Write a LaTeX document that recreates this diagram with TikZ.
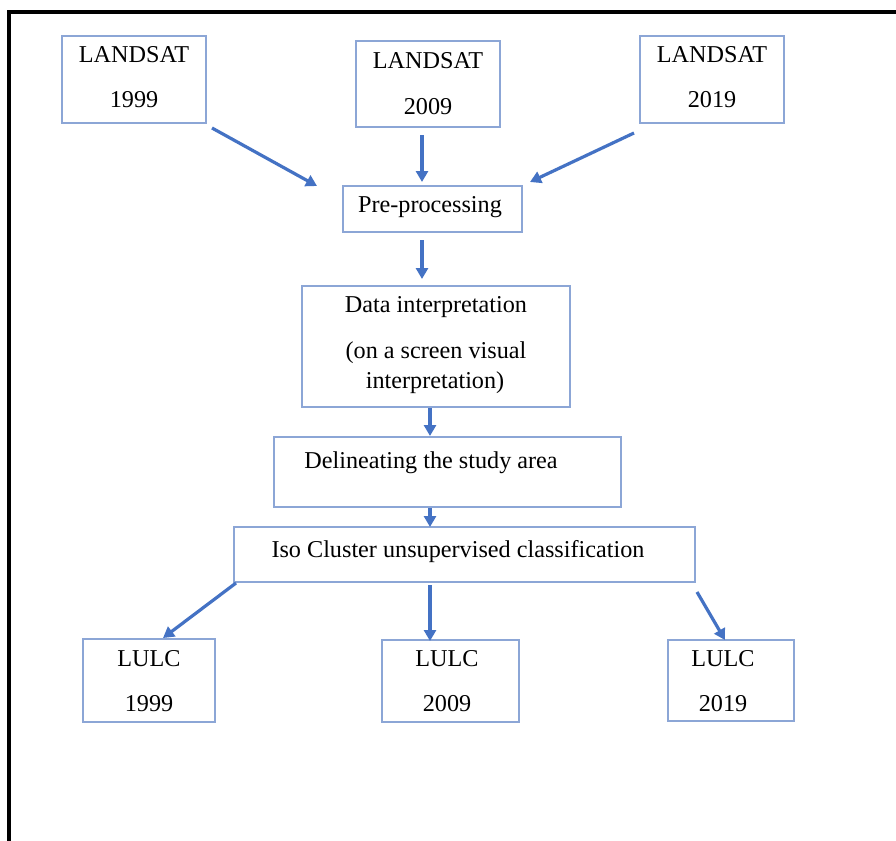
\documentclass[tikz,border=0pt]{standalone}
\usepackage{fontspec}
\setmainfont{Liberation Serif}
\usetikzlibrary{arrows.meta}
\definecolor{boxc}{HTML}{8CA6D6}
\definecolor{arrc}{HTML}{4472C4}
\tikzset{
  box/.style={draw=boxc, line width=1.6pt, fill=white},
  lbl/.style={anchor=base, inner sep=0pt, font=\fontsize{24.2}{29}\selectfont},
  flow/.style={draw=arrc, line width=3.2pt, -{Triangle[length=11pt,width=12pt]}},
  frame/.style={draw=black, line width=4pt}
}
\begin{document}
\begin{tikzpicture}[x=1pt,y=-1pt]
\useasboundingbox (0,0) rectangle (896,840);
\fill[white] (0,0) rectangle (896,840);
% frame
\coordinate (fbl) at (9,842);
\coordinate (ftl) at (9,12);
\coordinate (ftr) at (898,12);
\draw[frame] (fbl) -- (ftl) -- (ftr);
% boxes
\draw[box] (62,36) rectangle (206,123) node[midway] (b1) {};
\draw[box] (356,41) rectangle (500,127) node[midway] (b2) {};
\draw[box] (640,36) rectangle (784,123) node[midway] (b3) {};
\draw[box] (343,186) rectangle (522,232) node[midway] (pre) {};
\draw[box] (302,286) rectangle (570,407) node[midway] (dat) {};
\draw[box] (274,437) rectangle (621,507) node[midway] (del) {};
\draw[box] (234,527) rectangle (695,582) node[midway] (iso) {};
\draw[box] (83,639) rectangle (215,722) node[midway] (c1) {};
\draw[box] (382,640) rectangle (519,722) node[midway] (c2) {};
\draw[box] (668,640) rectangle (794,721) node[midway] (c3) {};
% texts
\node[lbl] (t1a) at (134,63) {LANDSAT};
\node[lbl] (t1b) at (134,108) {1999};
\node[lbl] (t2a) at (428,69) {LANDSAT};
\node[lbl] (t2b) at (428,114) {2009};
\node[lbl] (t3a) at (712,63) {LANDSAT};
\node[lbl] (t3b) at (712,108) {2019};
\node[lbl] (tpre) at (430,212) {Pre-processing};
\node[lbl] (td1) at (436,312) {Data interpretation};
\node[lbl] (td2) at (436,358) {(on a screen visual};
\node[lbl] (td3) at (435,388) {interpretation)};
\node[lbl] (tdel) at (431,468) {Delineating the study area};
\node[lbl] (tiso) at (458,557) {Iso Cluster unsupervised classification};
\node[lbl] (tc1a) at (149,666) {LULC};
\node[lbl] (tc1b) at (149,711) {1999};
\node[lbl] (tc2a) at (447,666) {LULC};
\node[lbl] (tc2b) at (447,711) {2009};
\node[lbl] (tc3a) at (723,666) {LULC};
\node[lbl] (tc3b) at (723,711) {2019};
% arrow endpoints
\coordinate (a1s) at (212,128); \coordinate (a1e) at (317,186);
\coordinate (a2s) at (422,135); \coordinate (a2e) at (422,182);
\coordinate (a3s) at (634,133); \coordinate (a3e) at (530,182);
\coordinate (a4s) at (422,240); \coordinate (a4e) at (422,279);
\coordinate (a5s) at (430,408); \coordinate (a5e) at (430,436);
\coordinate (a6s) at (430,508); \coordinate (a6e) at (430,527);
\coordinate (a7s) at (236,583); \coordinate (a7e) at (163,638);
\coordinate (a8s) at (430,585); \coordinate (a8e) at (430,641);
\coordinate (a9s) at (697,592); \coordinate (a9e) at (725,640);
\draw[flow] (a1s) -- (a1e);
\draw[flow] (a2s) -- (a2e);
\draw[flow] (a3s) -- (a3e);
\draw[flow] (a4s) -- (a4e);
\draw[flow] (a5s) -- (a5e);
\draw[flow] (a6s) -- (a6e);
\draw[flow] (a7s) -- (a7e);
\draw[flow] (a8s) -- (a8e);
\draw[flow] (a9s) -- (a9e);
\end{tikzpicture}
\end{document}
